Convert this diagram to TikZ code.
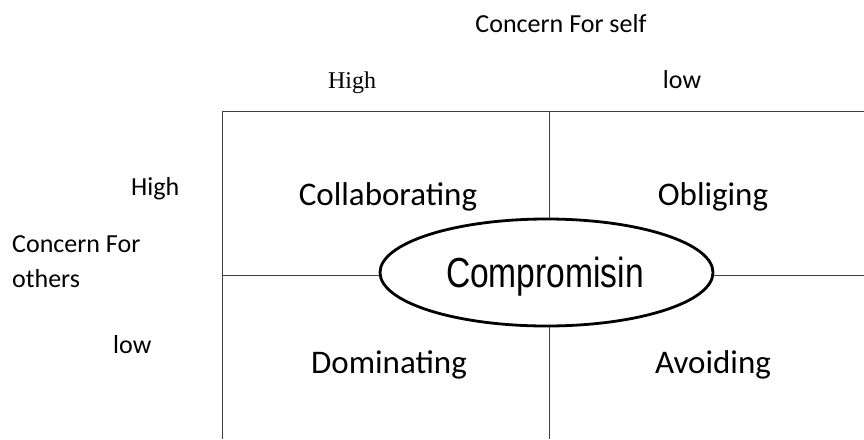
\documentclass[tikz,border=0pt]{standalone}
\usepackage{fontspec}
\setmainfont{Carlito}
\newfontfamily\timesfont{Liberation Serif}
\newfontfamily\narrowfont[FakeStretch=0.8]{Liberation Sans}
\usetikzlibrary{shapes.geometric}
\begin{document}
\begin{tikzpicture}[x=1pt,y=-1pt,
  gridline/.style={draw=black!75, line width=0.8pt},
  axislabel/.style={font=\fontsize{26}{30}\selectfont, inner sep=0pt, anchor=base},
  sidelabel/.style={font=\fontsize{26}{30}\selectfont, inner sep=0pt, anchor=base west},
  quadlabel/.style={font=\fontsize{33}{38}\selectfont, inner sep=0pt, anchor=base},
  centreoval/.style={ellipse, draw, line width=2.8pt, fill=white,
    minimum width=333pt, minimum height=107pt, inner sep=0pt},
  centretext/.style={font=\narrowfont\fontsize{42}{46}\selectfont, inner sep=0pt, anchor=base}]
\useasboundingbox (0,0) rectangle (864,439);
% grid of the four quadrants
\coordinate (tl) at (222,111);
\coordinate (tm) at (549,111);
\coordinate (tr) at (864,111);
\coordinate (ml) at (222,275);
\coordinate (mr) at (864,275);
\coordinate (bl) at (222,439);
\coordinate (bm) at (549,439);
\draw[gridline] (tl) -- (tr);
\draw[gridline] (ml) -- (mr);
\draw[gridline] (tl) -- (bl);
\draw[gridline] (tm) -- (bm);
% centre style
\node[centreoval] (comp) at (546.5,272.5) {};
\node[centretext] (comptext) at (545,287) {Compromisin};
% axis labels along the top
\node[axislabel] (self) at (561,32) {Concern For self};
\node[axislabel, font=\timesfont\fontsize{24}{28}\selectfont] (shigh) at (352,88) {High};
\node[axislabel] (slow) at (682,88) {low};
% axis labels on the left
\node[sidelabel] (ohigh) at (131,195) {High};
\node[sidelabel] (others1) at (12,252) {Concern For};
\node[sidelabel] (others2) at (12,287) {others};
\node[sidelabel] (olow) at (113,353) {low};
% quadrant labels
\node[quadlabel] (coll) at (388,205) {Collaborating};
\node[quadlabel] (obl) at (713,205) {Obliging};
\node[quadlabel] (dom) at (389,373) {Dominating};
\node[quadlabel] (avo) at (713,373) {Avoiding};
\end{tikzpicture}
\end{document}
